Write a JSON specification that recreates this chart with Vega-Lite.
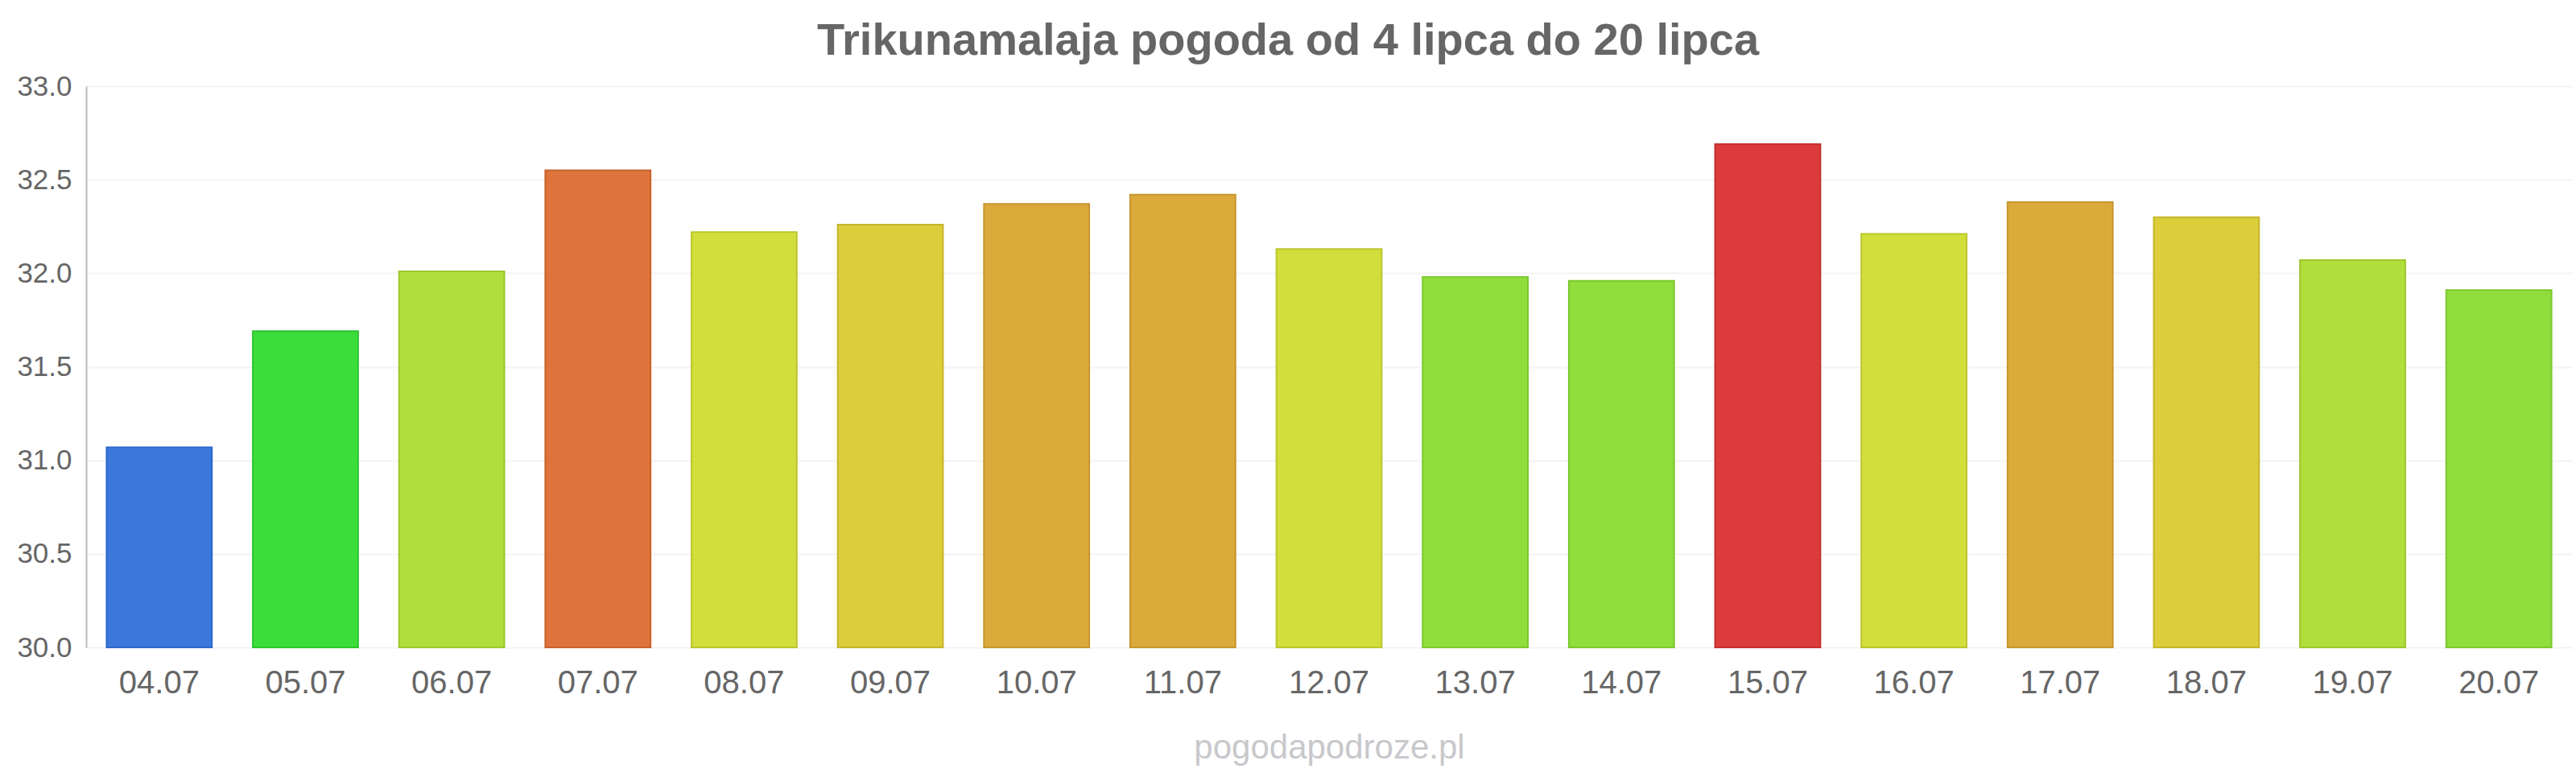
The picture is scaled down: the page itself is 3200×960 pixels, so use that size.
{
  "$schema": "https://vega.github.io/schema/vega-lite/v6.json",
  "width": 3088,
  "height": 697,
  "autosize": {"type": "none"},
  "padding": {"left": 107, "top": 107, "right": 5, "bottom": 156},
  "background": "white",
  "config": {
    "font": "Liberation Sans",
    "view": {"stroke": null}
  },
  "title": {
    "text": "Trikunamalaja pogoda od 4 lipca do 20 lipca",
    "fontSize": 56,
    "fontWeight": "bold",
    "color": "#666666",
    "anchor": "middle",
    "dx": -51,
    "offset": 10,
    "font": "Liberation Sans"
  },
  "data": {
    "values": [
      {"date": "04.07", "temp": 31.07},
      {"date": "05.07", "temp": 31.69},
      {"date": "06.07", "temp": 32.01},
      {"date": "07.07", "temp": 32.55},
      {"date": "08.07", "temp": 32.22},
      {"date": "09.07", "temp": 32.26},
      {"date": "10.07", "temp": 32.37},
      {"date": "11.07", "temp": 32.42},
      {"date": "12.07", "temp": 32.13},
      {"date": "13.07", "temp": 31.98},
      {"date": "14.07", "temp": 31.96},
      {"date": "15.07", "temp": 32.69},
      {"date": "16.07", "temp": 32.21},
      {"date": "17.07", "temp": 32.38},
      {"date": "18.07", "temp": 32.30},
      {"date": "19.07", "temp": 32.07},
      {"date": "20.07", "temp": 31.91}
    ]
  },
  "mark": {"type": "bar", "strokeWidth": 2, "fillOpacity": 0.97, "strokeOpacity": 1},
  "encoding": {
    "x": {
      "field": "date",
      "type": "nominal",
      "sort": null,
      "scale": {"paddingInner": 0.28, "paddingOuter": 0.14},
      "axis": {
        "title": "pogodapodroze.pl",
        "titleFontSize": 42,
        "titleFontWeight": "normal",
        "titleColor": "#c8c8cc",
        "titlePadding": 40,
        "labelFontSize": 40,
        "labelColor": "#666666",
        "labelPadding": 24,
        "labelAngle": 0,
        "domain": false,
        "ticks": false,
        "grid": false
      }
    },
    "y": {
      "field": "temp",
      "type": "quantitative",
      "scale": {"domain": [30, 33], "zero": false, "nice": false},
      "axis": {
        "title": null,
        "values": [30, 30.5, 31, 31.5, 32, 32.5, 33],
        "format": ".1f",
        "labelFontSize": 35,
        "labelColor": "#666666",
        "labelPadding": 18,
        "ticks": false,
        "domainColor": "#bbbbbb",
        "domainWidth": 2,
        "gridColor": "#f3f3f3",
        "gridWidth": 2
      }
    },
    "y2": {"datum": 30},
    "color": {
      "field": "date",
      "type": "nominal",
      "legend": null,
      "scale": {
        "domain": ["04.07","05.07","06.07","07.07","08.07","09.07","10.07","11.07","12.07","13.07","14.07","15.07","16.07","17.07","18.07","19.07","20.07"],
        "range": ["#3674db","#35dc35","#addd35","#dc6f35","#cfdd35","#dbcb35","#dba735","#dba735","#cfdd35","#8bdd35","#8bdd35","#db3535","#cfdd35","#dba735","#dbcb35","#addd35","#8bdd35"]
      }
    },
    "stroke": {
      "field": "date",
      "type": "nominal",
      "legend": null,
      "scale": {
        "domain": ["04.07","05.07","06.07","07.07","08.07","09.07","10.07","11.07","12.07","13.07","14.07","15.07","16.07","17.07","18.07","19.07","20.07"],
        "range": ["#3068c8","#2ec42e","#9cc72e","#c8622e","#bac72e","#c6b62e","#c6962e","#c6962e","#bac72e","#7dc72e","#7dc72e","#c62e2e","#bac72e","#c6962e","#c6b62e","#9cc72e","#7dc72e"]
      }
    }
  }
}
